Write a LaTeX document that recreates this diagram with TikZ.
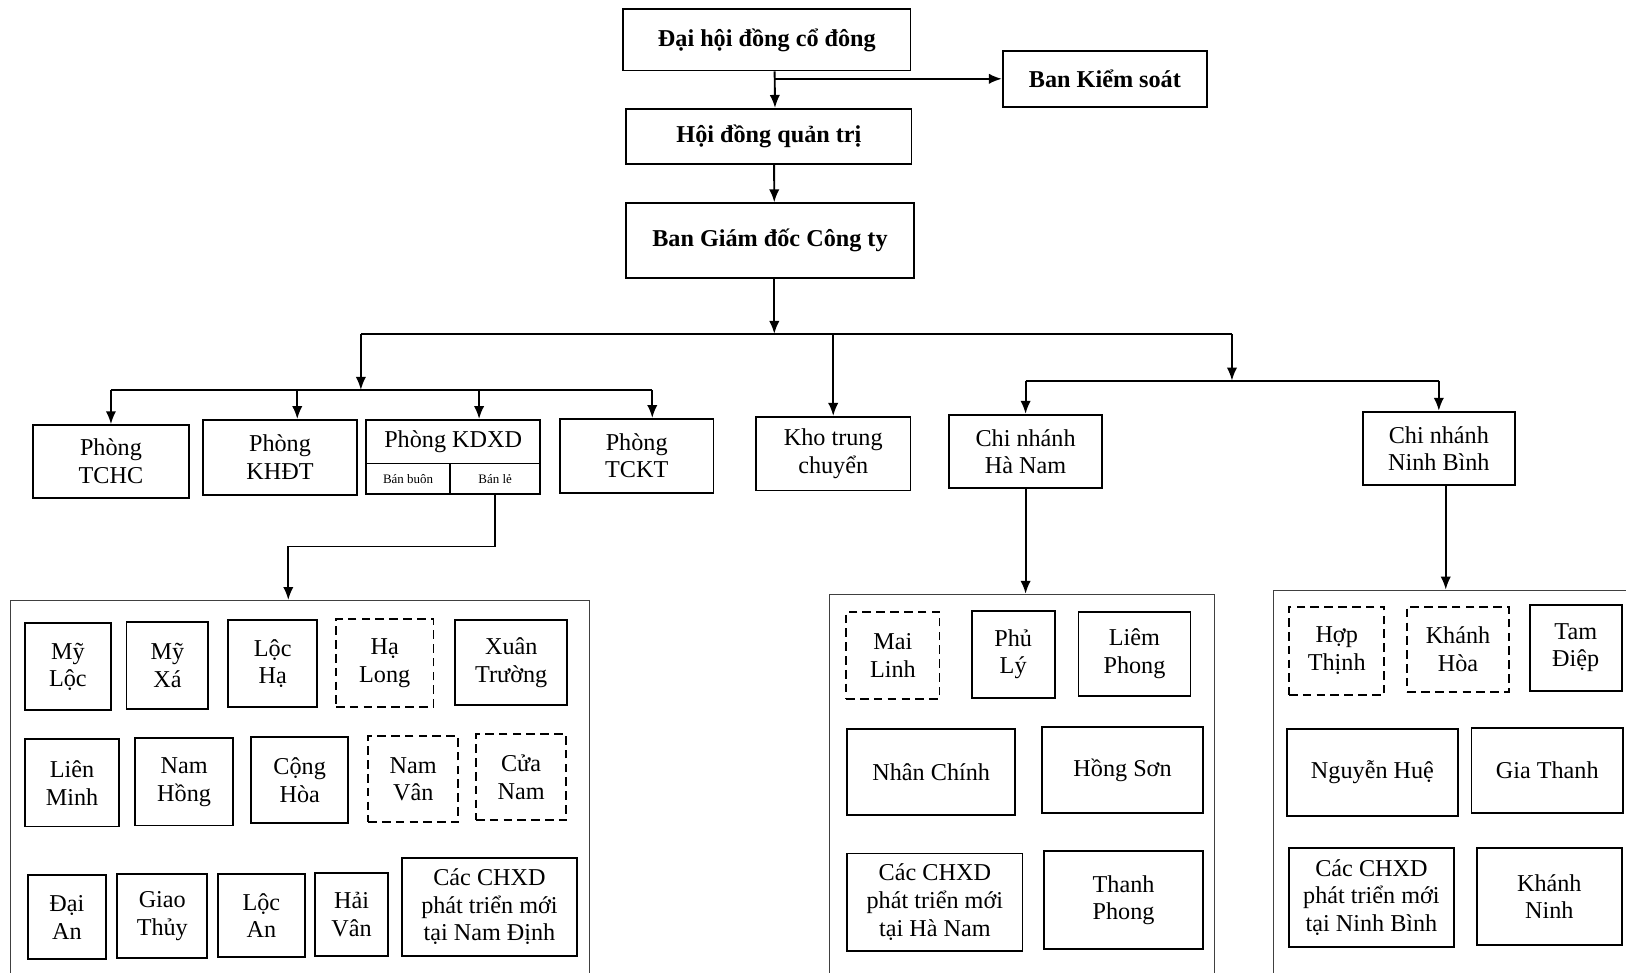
\documentclass[tikz,border=0pt]{standalone}
\usepackage{fontspec}
\setmainfont{Liberation Serif}
\usetikzlibrary{arrows.meta}
\begin{document}
\begin{tikzpicture}[x=0.6pt,y=-0.6pt]
\tikzstyle{box} = [draw,line width=1.1pt,align=center,inner sep=1pt,font=\fontsize{14}{16}\selectfont]
\tikzstyle{bbox} = [box,font=\fontsize{14}{16}\selectfont\bfseries]
\tikzstyle{dbox} = [box,dash pattern=on 5pt off 3pt]
\tikzstyle{sub} = [box,font=\fontsize{7.5}{9}\selectfont]
\tikzstyle{frame} = [draw=black!75,line width=0.5pt]
\tikzstyle{arr} = [line width=1.1pt,>={Latex[length=7.5pt,width=6pt]},->]
\tikzstyle{bus} = [line width=1.1pt]
\tikzset{sz/.style 2 args={minimum width=#1*0.6pt,minimum height=#2*0.6pt}}
\path[use as bounding box,clip] (0,0) rectangle (1568,938);
\node[bbox,sz={277}{59}] (dh) at (739.5,38.5) {Đại hội đồng cổ đông};
\node[bbox,sz={197}{54}] (bks) at (1065.5,76) {Ban Kiểm soát};
\node[bbox,sz={275}{53}] (hdqt) at (741.5,131.5) {Hội đồng quản trị};
\node[bbox,sz={277}{72}] (bgd) at (742.5,232) {Ban Giám đốc Công ty};
\node[box,sz={150}{70}] (tchc) at (107,445) {Phòng\\TCHC};
\node[box,sz={148}{72}] (khdt) at (270,441) {Phòng\\KHĐT};
\node[box,sz={168}{42}] (kdxd) at (437,426) {Phòng KDXD};
\node[sub,sz={81}{29}] (bb) at (393.5,461.5) {Bán buôn};
\node[sub,sz={87}{29}] (bl) at (477.5,461.5) {Bán lẻ};
\node[box,sz={148}{71}] (tckt) at (614,439.5) {Phòng\\TCKT};
\node[box,sz={149}{71}] (kho) at (803.5,437.5) {Kho trung\\chuyển};
\node[box,sz={148}{71}] (hn) at (989,435.5) {Chi nhánh\\Hà Nam};
\node[box,sz={147}{71}] (nb) at (1387.5,432.5) {Chi nhánh\\Ninh Bình};
\node[frame,sz={558}{381}] (c1) at (289,769.5) {};
\node[frame,sz={371}{387}] (c2) at (985.5,766.5) {};
\node[frame,sz={392}{391}] (c3) at (1424,764.5) {};
\node[box,sz={83}{84}] (myloc) at (65.5,643) {Mỹ\\Lộc};
\node[box,sz={79}{84}] (myxa) at (161.5,642) {Mỹ\\Xá};
\node[box,sz={86}{84}] (locha) at (263,640) {Lộc\\Hạ};
\node[dbox,sz={94}{85}] (halong) at (371,639.5) {Hạ\\Long};
\node[box,sz={108}{82}] (xtruong) at (493,639) {Xuân\\Trường};
\node[box,sz={91}{84}] (lminh) at (69.5,755) {Liên\\Minh};
\node[box,sz={95}{84}] (nhong) at (177.5,754) {Nam\\Hồng};
\node[box,sz={94}{83}] (choa) at (289,752.5) {Cộng\\Hòa};
\node[dbox,sz={87}{83}] (nvan) at (398.5,751.5) {Nam\\Vân};
\node[dbox,sz={87}{83}] (cnam) at (502.5,749.5) {Cửa\\Nam};
\node[box,sz={75}{81}] (daian) at (64.5,884.5) {Đại\\An};
\node[box,sz={87}{81}] (gthuy) at (156.5,883.5) {Giao\\Thủy};
\node[box,sz={84}{80}] (locan) at (252,883) {Lộc\\An};
\node[box,sz={70}{80}] (haivan) at (339,882) {Hải\\Vân};
\node[box,sz={168}{95}] (chxdnd) at (472,874.5) {Các CHXD\\phát triển mới\\tại Nam Định};
\node[dbox,sz={90}{84}] (mlinh) at (861,632) {Mai\\Linh};
\node[box,sz={80}{84}] (phuly) at (977,631) {Phủ\\Lý};
\node[box,sz={108}{81}] (lphong) at (1094,630.5) {Liêm\\Phong};
\node[box,sz={162}{83}] (nchinh) at (898,744.5) {Nhân Chính};
\node[box,sz={155}{83}] (hson) at (1082.5,742.5) {Hồng Sơn};
\node[box,sz={169}{94}] (chxdhn) at (901.5,870) {Các CHXD\\phát triển mới\\tại Hà Nam};
\node[box,sz={153}{94}] (tphong) at (1083.5,868) {Thanh\\Phong};
\node[dbox,sz={92}{85}] (hthinh) at (1289,627.5) {Hợp\\Thịnh};
\node[dbox,sz={98}{82}] (khoa) at (1406,626) {Khánh\\Hòa};
\node[box,sz={89}{83}] (tdiep) at (1519.5,624.5) {Tam\\Điệp};
\node[box,sz={165}{84}] (nhue) at (1323.5,745) {Nguyễn Huệ};
\node[box,sz={146}{82}] (gthanh) at (1492,743) {Gia Thanh};
\node[box,sz={159}{95}] (chxdnb) at (1322.5,865.5) {Các CHXD\\phát triển mới\\tại Ninh Bình};
\node[box,sz={140}{93}] (kninh) at (1494,864.5) {Khánh\\Ninh};
\coordinate (j1) at (348,322);
\coordinate (j2) at (1188,322);
\coordinate (j3) at (348,376);
\coordinate (j4) at (1188,367);
\coordinate (k1) at (278,527);
\draw[arr] ([xshift=4.5pt]dh.south) -- ([xshift=3.5pt]hdqt.north);
\draw[arr] ([xshift=4.5pt]dh.south |- bks.west) -- (bks.west);
\draw[arr] ([xshift=3pt]hdqt.south) -- ([xshift=2.5pt]bgd.north);
\draw[arr] ([xshift=2.5pt]bgd.south) -- ([xshift=2.5pt]bgd.south |- j1);
\draw[bus] (j1) -- (j2);
\draw[arr] (j1) -- (j3);
\draw[bus] (tchc.north |- j3) -- ([xshift=9pt]tckt.north |- j3);
\draw[arr] (tchc.north |- j3) -- (tchc.north);
\draw[arr] ([xshift=10pt]khdt.north |- j3) -- ([xshift=10pt]khdt.north);
\draw[arr] ([xshift=15pt]kdxd.north |- j3) -- ([xshift=15pt]kdxd.north);
\draw[arr] ([xshift=9pt]tckt.north |- j3) -- ([xshift=9pt]tckt.north);
\draw[arr] (kho.north |- j1) -- (kho.north);
\draw[arr] (j2) -- (j4);
\draw[bus] (hn.north |- j4) -- (nb.north |- j4);
\draw[arr] (hn.north |- j4) -- (hn.north);
\draw[arr] (nb.north |- j4) -- (nb.north);
\draw[arr] (bl.south) |- (k1) -- (k1 |- c1.north);
\draw[arr] (hn.south) -- (hn.south |- c2.north);
\draw[arr] ([xshift=4pt]nb.south) -- ([xshift=4pt]nb.south |- c3.north);
\end{tikzpicture}
\end{document}
